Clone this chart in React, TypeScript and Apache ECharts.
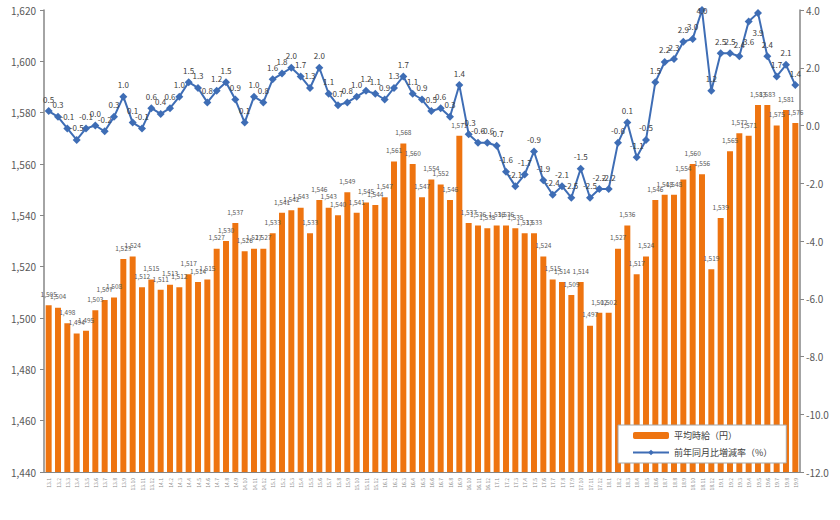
import React, { useEffect, useRef } from 'react';
import * as echarts from 'echarts';

const years = [13, 14, 15, 16, 17, 18, 19];

const wages = [
  1505, 1504, 1498, 1494, 1495, 1503, 1507, 1508, 1523, 1524, 1512, 1515,
  1511, 1513, 1512, 1517, 1514, 1515, 1527, 1530, 1537, 1526, 1527, 1527,
  1533, 1541, 1542, 1543, 1533, 1546, 1543, 1540, 1549, 1541, 1545, 1544,
  1547, 1561, 1568, 1560, 1547, 1554, 1552, 1546, 1571, 1537, 1536, 1535,
  1536, 1536, 1535, 1533, 1533, 1524, 1515, 1514, 1509, 1514, 1497, 1502,
  1502, 1527, 1536, 1517, 1524, 1546, 1548, 1548, 1554, 1560, 1556, 1519,
  1539, 1565, 1572, 1571, 1583, 1583, 1575, 1581, 1576,
];

const yoy = [
  0.5, 0.3, -0.1, -0.5, -0.1, 0.0, -0.2, 0.3, 1.0, 0.1, -0.1, 0.6,
  0.4, 0.6, 1.0, 1.5, 1.3, 0.8, 1.2, 1.5, 0.9, 0.1, 1.0, 0.8,
  1.6, 1.8, 2.0, 1.7, 1.3, 2.0, 1.1, 0.7, 0.8, 1.0, 1.2, 1.1,
  0.9, 1.3, 1.7, 1.1, 0.9, 0.5, 0.6, 0.3, 1.4, -0.3, -0.6, -0.6,
  -0.7, -1.6, -2.1, -1.7, -0.9, -1.9, -2.4, -2.1, -2.5, -1.5, -2.5, -2.2,
  -2.2, -0.6, 0.1, -1.1, -0.5, 1.5, 2.2, 2.3, 2.9, 3.0, 4.0, 1.2,
  2.5, 2.5, 2.4, 3.6, 3.9, 2.4, 1.7, 2.1, 1.4,
];

const months: string[] = [];
years.forEach((y) => {
  for (let m = 1; m <= 12; m++) months.push(`${y}.${m}`);
});
const categories = months.slice(0, wages.length);

const seriesNames = ['平均時給（円）', '前年同月比増減率（%）'];

const App: React.FC = () => {
  const chartRef = useRef<HTMLDivElement>(null);

  useEffect(() => {
    document.body.style.margin = '0';
    const chart = echarts.init(chartRef.current!, undefined, { renderer: 'svg' });
    const font = '"Noto Sans CJK JP", "Noto Sans", sans-serif';

    // points near the top of the plot get their label below / on the marker
    const lineData = yoy.map((v) => {
      if (v >= 4) return { value: v, label: { position: 'inside', distance: 0 } };
      if (v >= 3.5) return { value: v, label: { position: 'bottom', distance: 12 } };
      return v;
    });

    const option = {
      animation: false,
      textStyle: { fontFamily: font },
      grid: { left: 44, right: 40, top: 10, bottom: 48 },
      legend: {
        orient: 'vertical',
        left: 618,
        top: 425,
        width: 180,
        padding: [6, 14, 6, 14],
        backgroundColor: '#fff',
        borderColor: '#a6a6a6',
        borderWidth: 1,
        itemGap: 8,
        itemWidth: 36,
        itemHeight: 7,
        textStyle: { fontSize: 9, color: '#404040', fontFamily: font },
        z: 20,
      },
      xAxis: {
        type: 'category',
        data: categories,
        axisLine: { onZero: false, lineStyle: { color: '#868686' } },
        axisTick: { show: false },
        axisLabel: {
          interval: 0,
          rotate: 90,
          fontSize: 5,
          color: '#8c8c8c',
          margin: 6,
        },
      },
      yAxis: [
        {
          type: 'value',
          min: 1440,
          max: 1620,
          interval: 20,
          splitLine: { show: false },
          axisLine: { show: true, lineStyle: { color: '#868686', width: 1.5 } },
          axisTick: { show: true, length: 4, lineStyle: { color: '#868686' } },
          axisLabel: {
            fontSize: 10,
            color: '#595959',
            margin: 8,
            formatter: (v: number) => v.toLocaleString('en-US'),
          },
        },
        {
          type: 'value',
          min: -12,
          max: 4,
          interval: 2,
          splitLine: { show: false },
          axisLine: { show: true, lineStyle: { color: '#868686', width: 1.5 } },
          axisTick: { show: true, length: 4, lineStyle: { color: '#868686' } },
          axisLabel: {
            fontSize: 10,
            color: '#595959',
            margin: 6,
            formatter: (v: number) => v.toFixed(1),
          },
        },
      ],
      series: [
        {
          name: seriesNames[0],
          type: 'bar',
          data: wages,
          yAxisIndex: 0,
          barCategoryGap: '36%',
          itemStyle: { color: '#EE7410' },
          label: {
            show: true,
            position: 'top',
            distance: 8,
            fontSize: 6.5,
            color: '#595959',
            formatter: (p: any) => Number(p.value).toLocaleString('en-US'),
          },
          z: 2,
        },
        {
          name: seriesNames[1],
          type: 'line',
          data: lineData,
          yAxisIndex: 1,
          symbol: 'diamond',
          symbolSize: 8,
          lineStyle: { color: '#3E6DB5', width: 2 },
          itemStyle: { color: '#3E6DB5' },
          label: {
            show: true,
            position: 'top',
            distance: 4,
            fontSize: 8,
            color: '#404040',
            formatter: (p: any) => Number(p.value).toFixed(1),
          },
          z: 5,
        },
      ],
    };

    chart.setOption(option);
    return () => {
      chart.dispose();
    };
  }, []);

  return <div ref={chartRef} style={{ width: 840, height: 520 }} />;
};

export default App;
